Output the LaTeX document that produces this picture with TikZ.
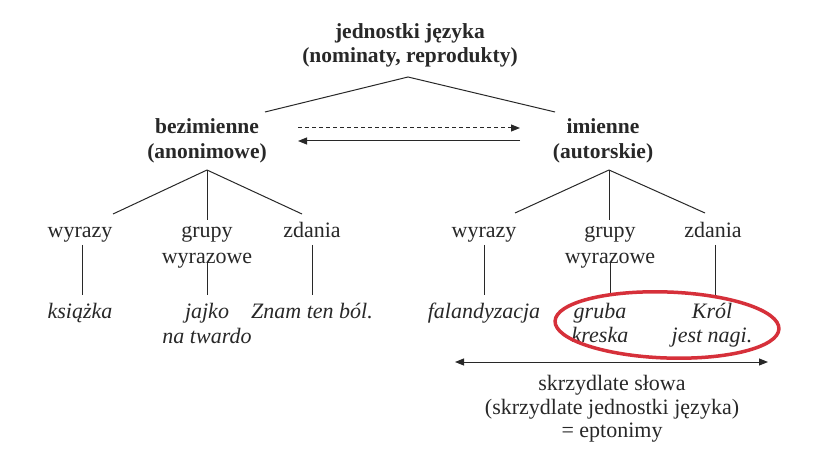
\documentclass[tikz,border=0pt]{standalone}
\usepackage{fontspec}
\setmainfont{Liberation Serif}
\usetikzlibrary{arrows.meta}
\definecolor{ovalred}{RGB}{214,48,58}
\definecolor{ink}{RGB}{40,40,40}
\begin{document}
\begin{tikzpicture}[x=1pt,y=-1pt,
  every node/.style={inner sep=0pt,anchor=base,text=ink,font=\fontsize{22}{25}\selectfont},
  head/.style={font=\fontsize{21.5}{25}\selectfont\bfseries},
  leaf/.style={font=\fontsize{22}{24}\selectfont\itshape},
  ln/.style={draw=ink,line width=1pt},
  arr/.style={ln,-{Triangle[length=9pt,width=7pt]}}]
\useasboundingbox (0,0) rectangle (821,462);
\fill[white] (0,0) rectangle (821,462);
% top
\node[head] (top1) at (410,39) {jednostki języka};
\node[head] (top2) at (410,63) {(nominaty, reprodukty)};
\coordinate (apex) at (408,77);
\node[head] (bez1) at (207,134) {bezimienne};
\node[head] (bez2) at (207,159) {(anonimowe)};
\node[head] (imi1) at (603,134) {imienne};
\node[head] (imi2) at (603,159) {(autorskie)};
\coordinate (bezT) at (265,112);
\coordinate (imiT) at (555,112);
\draw[ln] (bezT) -- (apex) -- (imiT);
\coordinate (da) at (298,128);
\coordinate (db) at (520,128);
\coordinate (sa) at (520,141);
\coordinate (sb) at (298,141);
\draw[arr,dashed,dash pattern=on 4pt off 3pt] (da) -- (db);
\draw[arr] (sa) -- (sb);
% left subtree
\coordinate (la) at (207,170);
\node (lw) at (80,238) {wyrazy};
\node (lg1) at (207,238) {grupy};
\node (lg2) at (207,263) {wyrazowe};
\node (lz) at (312,238) {zdania};
\coordinate (lwT) at (113,214);
\coordinate (lgT) at (207,220);
\coordinate (lzT) at (302,214);
\draw[ln] (la) -- (lwT);
\draw[ln] (la) -- (lgT);
\draw[ln] (la) -- (lzT);
\node[leaf] (l1) at (80,318) {książka};
\node[leaf] (l2a) at (207,318) {jajko};
\node[leaf] (l2b) at (207,343) {na twardo};
\node[leaf] (l3) at (312,318) {Znam ten ból.};
\coordinate (lwB) at (82,245);  \coordinate (l1T) at (82,295);
\coordinate (lgB) at (207,262); \coordinate (l2T) at (207,295);
\coordinate (lzB) at (312,245); \coordinate (l3T) at (312,295);
\draw[ln] (lwB) -- (l1T);
\draw[ln] (lgB) -- (l2T);
\draw[ln] (lzB) -- (l3T);
% right subtree
\coordinate (ra) at (609,170);
\node (rw) at (484,238) {wyrazy};
\node (rg1) at (610,238) {grupy};
\node (rg2) at (610,263) {wyrazowe};
\node (rz) at (713,238) {zdania};
\coordinate (rwT) at (515,213);
\coordinate (rgT) at (609,220);
\coordinate (rzT) at (705,213);
\draw[ln] (ra) -- (rwT);
\draw[ln] (ra) -- (rgT);
\draw[ln] (ra) -- (rzT);
\node[leaf] (r1) at (484,318) {falandyzacja};
\node[leaf] (r2a) at (600,318) {gruba};
\node[leaf] (r2b) at (600,342) {kreska};
\node[leaf] (r3a) at (712,318) {Król};
\node[leaf] (r3b) at (712,342) {jest nagi.};
\coordinate (rwB) at (484,245); \coordinate (r1T) at (484,295);
\coordinate (rgB) at (610,262); \coordinate (r2T) at (610,295);
\coordinate (rzB) at (715,245); \coordinate (r3T) at (715,295);
\draw[ln] (rwB) -- (r1T);
\draw[ln] (rgB) -- (r2T);
\draw[ln] (rzB) -- (r3T);
% oval
\draw[ovalred,line width=3.5pt,rotate around={-2:(667,325)}] (667,325) ellipse [x radius=112, y radius=33];
% bottom arrow
\coordinate (ba) at (455,362);
\coordinate (bb) at (768,362);
\draw[ln,{Triangle[length=9pt,width=7pt]}-{Triangle[length=9pt,width=7pt]}] (ba) -- (bb);
\node (sk1) at (612,390) {skrzydlate słowa};
\node (sk2) at (612,414) {(skrzydlate jednostki języka)};
\node (sk3) at (612,437) {= eptonimy};
\end{tikzpicture}
\end{document}
